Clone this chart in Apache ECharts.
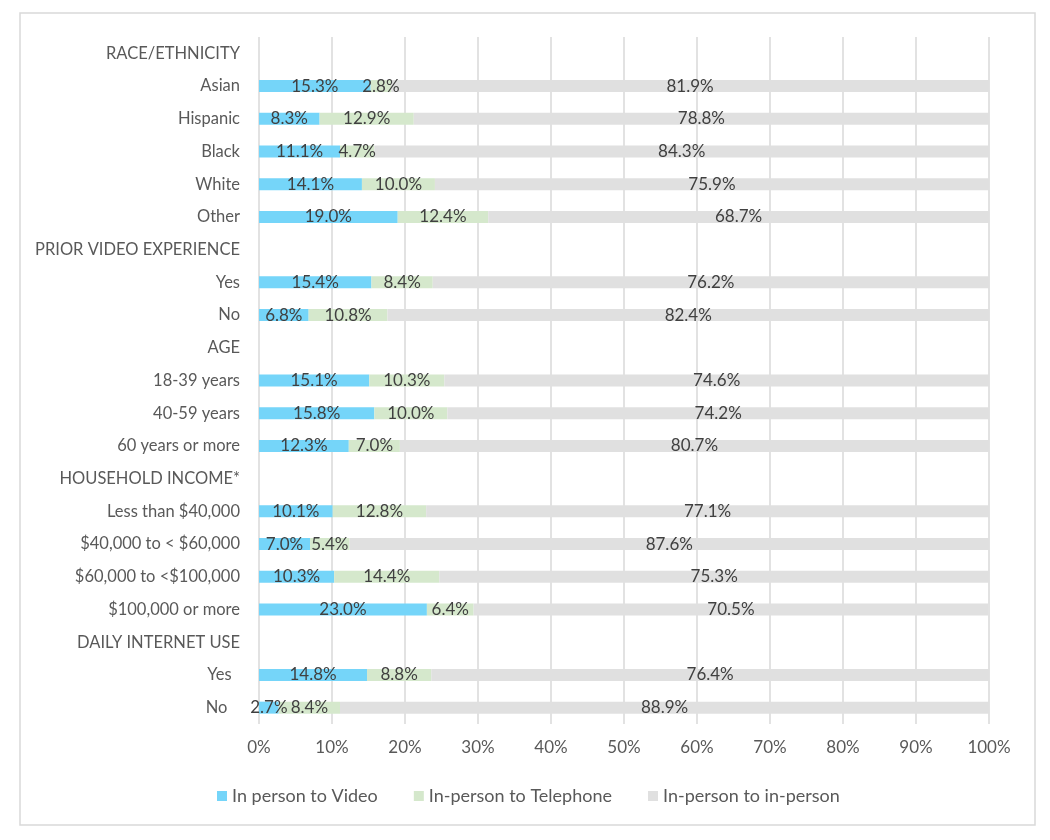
<!DOCTYPE html>
<html lang="en">
<head>
    <meta charset="utf-8">
    <title>ECharts</title>
    <script src="https://cdn.jsdelivr.net/npm/echarts@6/dist/echarts.min.js"></script>
    <style>
        html, body { margin: 0; padding: 0; background: #fff; }
        #main { width: 1050px; height: 840px; }
    </style>
</head>
<body>
<div id="main"></div>
<script type="text/javascript">
    // categories, top to bottom (group headers have no bars)
    var categories = [
        'RACE/ETHNICITY', 'Asian', 'Hispanic', 'Black', 'White', 'Other',
        'PRIOR VIDEO EXPERIENCE', 'Yes', 'No',
        'AGE', '18-39 years', '40-59 years', '60 years or more',
        'HOUSEHOLD INCOME*', 'Less than $40,000', '$40,000 to < $60,000', '$60,000 to <$100,000', '$100,000 or more',
        'DAILY INTERNET USE', 'Yes  ', 'No   '
    ];
    var video = ['-', 15.3, 8.3, 11.1, 14.1, 19.0, '-', 15.4, 6.8, '-', 15.1, 15.8, 12.3, '-', 10.1, 7.0, 10.3, 23.0, '-', 14.8, 2.7];
    var telephone = ['-', 2.8, 12.9, 4.7, 10.0, 12.4, '-', 8.4, 10.8, '-', 10.3, 10.0, 7.0, '-', 12.8, 5.4, 14.4, 6.4, '-', 8.8, 8.4];
    var inPerson = ['-', 81.9, 78.8, 84.3, 75.9, 68.7, '-', 76.2, 82.4, '-', 74.6, 74.2, 80.7, '-', 77.1, 87.6, 75.3, 70.5, '-', 76.4, 88.9];
    var xTicks = [0, 10, 20, 30, 40, 50, 60, 70, 80, 90, 100];

    var font = 'Lato, "Liberation Sans", sans-serif';
    var myChart = echarts.init(document.getElementById('main'));

    function mkSeries(name, data, color) {
        return {
            name: name,
            type: 'bar',
            stack: 'total',
            barWidth: 12,
            data: data,
            itemStyle: { color: color },
            label: {
                show: true,
                position: 'inside',
                color: '#404040',
                fontSize: 17,
                fontFamily: font,
                formatter: function (p) { return p.value.toFixed(1) + '%'; }
            }
        };
    }

    option = {
        animation: false,
        graphic: [{
            type: 'rect',
            shape: { x: 20, y: 13, width: 1015, height: 812 },
            style: { fill: 'none', stroke: '#d9d9d9', lineWidth: 1.5 }
        }],
        grid: { left: 259, right: 61, top: 37, bottom: 116, containLabel: false },
        legend: {
            data: ['In person to Video', 'In-person to Telephone', 'In-person to in-person'],
            left: 212,
            top: 782,
            itemWidth: 10,
            itemHeight: 10,
            itemGap: 36,
            icon: 'rect',
            textStyle: { color: '#595959', fontSize: 18, fontFamily: font }
        },
        xAxis: {
            type: 'value',
            min: 0,
            max: 100,
            interval: 10,
            axisLine: { show: false },
            axisTick: { show: false },
            axisLabel: {
                color: '#595959', fontSize: 17, fontFamily: font, margin: 15,
                formatter: function (v) { return xTicks.indexOf(v) >= 0 ? v + '%' : ''; }
            },
            splitLine: { lineStyle: { color: '#d9d9d9', width: 1.5 } }
        },
        yAxis: {
            type: 'category',
            inverse: true,
            data: categories,
            axisLine: { show: false },
            axisTick: { show: false },
            axisLabel: { color: '#595959', fontSize: 16.5, fontFamily: font, margin: 19 }
        },
        series: [
            mkSeries('In person to Video', video, '#75d5f9'),
            mkSeries('In-person to Telephone', telephone, '#d5e8cc'),
            mkSeries('In-person to in-person', inPerson, '#e0e0e0')
        ]
    };

    myChart.setOption(option);
</script>
</body>
</html>
